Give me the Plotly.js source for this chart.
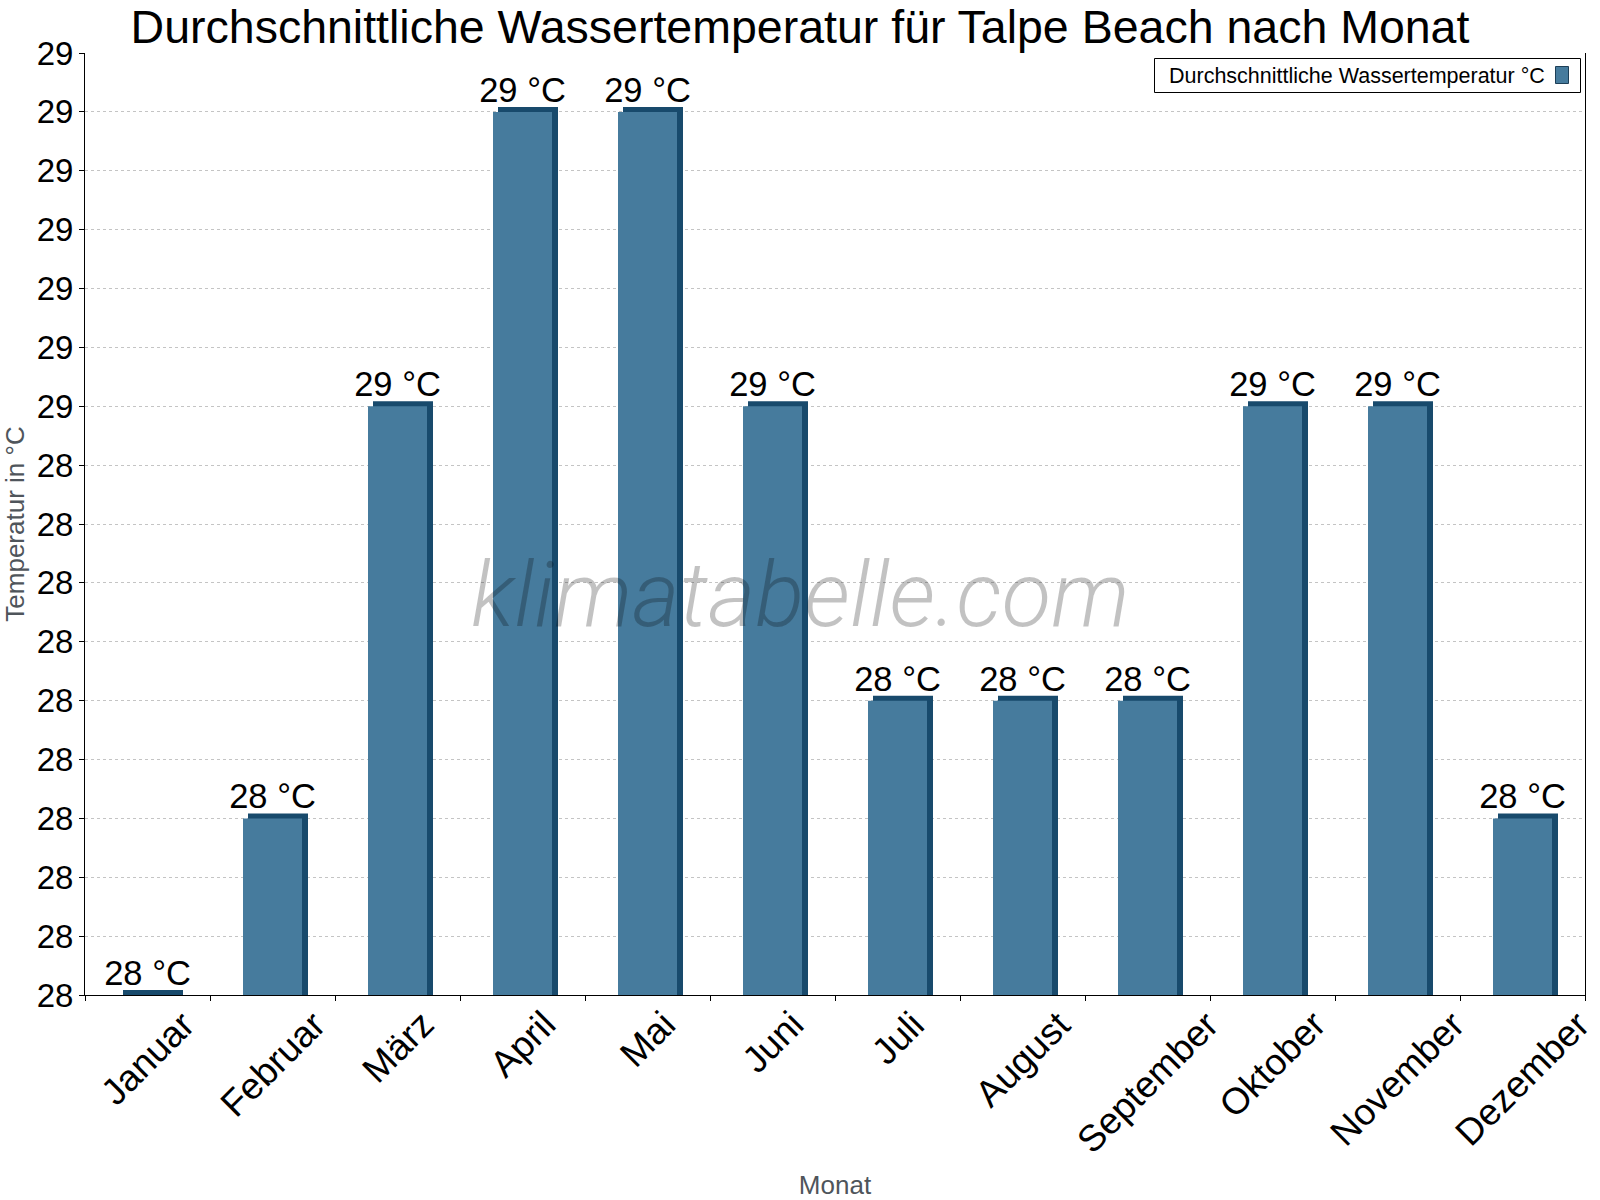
<!DOCTYPE html>
<html>
<head>
<meta charset="utf-8">
<script src="https://cdn.plot.ly/plotly-3.0.1.min.js"></script>
<style>html,body{margin:0;padding:0;background:#fff}#chart{width:1600px;height:1200px}</style>
</head>
<body>
<div id="chart"></div>
<script>
// ---- data ----
const months = ['Januar','Februar','März','April','Mai','Juni','Juli','August','September','Oktober','November','Dezember'];
const waterTemp = [28.0, 28.15, 28.5, 28.75, 28.75, 28.5, 28.25, 28.25, 28.25, 28.5, 28.5, 28.15];
const barLabels = ['28 °C','28 °C','29 °C','29 °C','29 °C','29 °C','28 °C','28 °C','28 °C','29 °C','29 °C','28 °C'];
const yTickVals = [28.0, 28.05, 28.1, 28.15, 28.2, 28.25, 28.3, 28.35, 28.4, 28.45, 28.5, 28.55, 28.6, 28.65, 28.7, 28.75, 28.8];
const yTickText = ['28','28','28','28','28','28','28','28','28','28','29','29','29','29','29','29','29'];
const seriesName = 'Durchschnittliche Wassertemperatur °C';
const chartTitle = 'Durchschnittliche Wassertemperatur für Talpe Beach nach Monat';
const xTitle = 'Monat';
const yTitle = 'Temperatur in °C';
const watermark = 'klimatabelle.com';

// ---- style ----
const FONT = '"Liberation Sans", Arial, Helvetica, sans-serif';
const MAIN = '#467b9d';
const DARK = '#184a6c';
const GRAYTXT = '#4f555b';
const W = 1600, H = 1200;
const M = {l: 85, r: 15, t: 53, b: 205};
const plotW = W - M.l - M.r, plotH = H - M.t - M.b;
const px2x = p => (p - M.l) / plotW;
const px2y = p => (H - M.b - p) / plotH;

const darkTrace = {
  type: 'bar', x: months, y: waterTemp,
  width: 0.4, offset: -0.156,
  marker: {color: DARK, line: {color: DARK, width: 10}},
  hoverinfo: 'skip', showlegend: false
};
const mainTrace = {
  type: 'bar', x: months, y: waterTemp, name: seriesName,
  width: 0.472, offset: -0.236,
  marker: {color: MAIN, line: {width: 0}},
  text: barLabels, textposition: 'outside', constraintext: 'none',
  textfont: {family: FONT, size: 34.5, color: '#000'},
  outsidetextfont: {family: FONT, size: 34.5, color: '#000'},
  showlegend: false
};

const xLabelAnn = months.map(m => ({
  x: m, xref: 'x', y: px2y(1001), yref: 'paper',
  xanchor: 'center', yanchor: 'top', textangle: -45,
  text: m, showarrow: false, font: {family: FONT, size: 37, color: '#000'}
}));

const layout = {
  width: W, height: H, margin: M,
  paper_bgcolor: '#fff', plot_bgcolor: '#fff',
  barmode: 'overlay', showlegend: false,
  font: {family: FONT, color: '#000'},
  title: {text: chartTitle, font: {family: FONT, size: 46.5, color: '#000'},
          x: 0.5, xanchor: 'center', xref: 'container',
          y: 1 - 27 / H, yref: 'container', yanchor: 'middle'},
  xaxis: {
    type: 'category', categoryorder: 'array', categoryarray: months, range: [-0.5, 11.5],
    showline: true, linecolor: '#000', linewidth: 1,
    ticks: 'outside', ticklen: 5, tickcolor: '#000', tickson: 'boundaries',
    showticklabels: false, showgrid: false, zeroline: false,
    title: {text: xTitle, font: {family: FONT, size: 26, color: GRAYTXT}, standoff: 180}
  },
  yaxis: {
    range: [28, 28.8], tickmode: 'array', tickvals: yTickVals, ticktext: yTickText,
    showline: true, mirror: true, linecolor: '#000', linewidth: 1,
    ticks: 'outside', ticklen: 5, tickcolor: '#000', ticklabelstandoff: -1,
    tickfont: {family: FONT, size: 33, color: '#000'},
    showgrid: true, gridcolor: '#c4c4c4', griddash: '3px,3px', gridwidth: 1, zeroline: false,
    title: {text: yTitle, font: {family: FONT, size: 26, color: GRAYTXT}, standoff: 6}
  },
  shapes: [
    {type: 'rect', xref: 'paper', yref: 'paper', x0: px2x(1154.5), x1: px2x(1580.5), y0: px2y(58.5), y1: px2y(92.5),
     line: {color: '#000', width: 1}, fillcolor: '#fff', layer: 'above'},
    {type: 'rect', xref: 'paper', yref: 'paper', x0: px2x(1555.5), x1: px2x(1568.5), y0: px2y(66.5), y1: px2y(83.5),
     line: {color: '#1d3f57', width: 1}, fillcolor: MAIN, layer: 'above'}
  ],
  annotations: xLabelAnn.concat([
    {text: seriesName, x: px2x(1167), xref: 'paper', xanchor: 'left', y: px2y(75.5), yref: 'paper', yanchor: 'middle',
     showarrow: false, font: {family: FONT, size: 21.5, color: '#000'}},
    {text: watermark, x: px2x(800), xref: 'paper', xanchor: 'center', y: px2y(595), yref: 'paper', yanchor: 'middle',
     showarrow: false, font: {family: 'Roboto, "Open Sans", sans-serif', size: 91, color: 'rgba(0,0,0,0.24)', style: 'italic', weight: 300}}
  ])
};

Plotly.newPlot('chart', [darkTrace, mainTrace], layout, {displayModeBar: false, staticPlot: true});
</script>
</body>
</html>
